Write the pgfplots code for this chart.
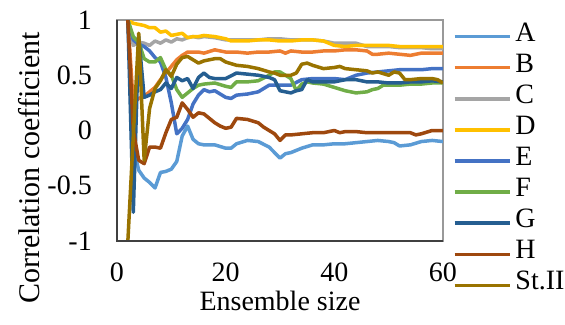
\documentclass[border=0pt]{standalone}
\usepackage{fontspec}
\setmainfont{Liberation Serif}
\usepackage{pgfplots}
\pgfplotsset{compat=1.18}
\definecolor{cA}{HTML}{5B9BD5}
\definecolor{cB}{HTML}{ED7D31}
\definecolor{cC}{HTML}{A5A5A5}
\definecolor{cD}{HTML}{FFC000}
\definecolor{cE}{HTML}{4472C4}
\definecolor{cF}{HTML}{70AD47}
\definecolor{cG}{HTML}{255E91}
\definecolor{cH}{HTML}{9E480E}
\definecolor{cS}{HTML}{997300}
\begin{document}
\fontsize{28bp}{33bp}\selectfont
\begin{tikzpicture}
\useasboundingbox (-117bp,-84bp) rectangle (448bp,241bp);
\begin{axis}[
  scale only axis, width=326bp, height=221bp,
  xmin=0, xmax=60, ymin=-1, ymax=1,
  xtick={0,20,40,60}, xticklabels={0,20,40,60},
  ytick={-1,-0.5,0,0.5,1}, yticklabels={-1,-0.5,0,0.5,1},
  major tick length=0pt,
  xticklabel style={anchor=north, inner sep=0pt, yshift=-22bp},
  yticklabel style={anchor=east, inner sep=0pt, xshift=-25bp},
  axis line style={draw=black!40, line width=1.2bp},
  xlabel={Ensemble size},
  xlabel style={at={(axis description cs:0.5,0)}, anchor=north, inner sep=0pt, yshift=-50bp},
  ylabel={Correlation coefficient},
  ylabel style={at={(axis description cs:-0.27,0.33)}, anchor=center, inner sep=0pt, font=\fontsize{30bp}{35bp}\selectfont},
  every axis plot/.append style={line width=3.5bp, line join=round, mark=none},
  legend style={at={(axis description cs:1,1)}, anchor=north west, xshift=10bp, yshift=-1bp,
    draw=none, fill=none, inner sep=0pt, outer sep=0pt, row sep=0pt, column sep=4bp,
    nodes={inner sep=0pt, text height=20bp, text depth=11.1bp}},
  legend cell align=left,
  legend image code/.code={\draw[#1, line width=3.5bp] (0bp,0bp) -- (55bp,0bp);},
  after end axis/.code={\draw[black!75, line width=1.5bp] (rel axis cs:0,1) -- (rel axis cs:0,0) -- (rel axis cs:1,0);},
]
\addplot[cA] coordinates {(2,1) (3,-0.15) (4,-0.36) (5,-0.43) (6,-0.47) (7,-0.52) (8,-0.38) (9,-0.37) (10,-0.35) (11,-0.28) (12,-0.05) (13,0.04) (14,-0.08) (15,-0.12) (16,-0.13) (18,-0.13) (20,-0.16) (21,-0.16) (22,-0.12) (24,-0.09) (26,-0.10) (28,-0.15) (29,-0.2) (30,-0.25) (31,-0.21) (32,-0.2) (34,-0.16) (36,-0.13) (38,-0.13) (40,-0.12) (42,-0.12) (44,-0.11) (46,-0.1) (48,-0.09) (50,-0.1) (51,-0.11) (52,-0.14) (54,-0.13) (56,-0.1) (58,-0.09) (60,-0.10)};
\addlegendentry{A}
\addplot[cB] coordinates {(2,1) (3,0.24) (4,0.29) (5,0.31) (6,0.35) (7,0.39) (8,0.46) (9,0.52) (10,0.58) (11,0.64) (12,0.68) (13,0.71) (14,0.71) (15,0.71) (16,0.70) (18,0.73) (20,0.71) (22,0.71) (24,0.70) (26,0.71) (28,0.71) (30,0.72) (31,0.70) (32,0.72) (34,0.71) (36,0.71) (38,0.72) (40,0.72) (42,0.73) (44,0.73) (46,0.72) (47,0.69) (48,0.69) (50,0.70) (52,0.69) (54,0.68) (56,0.70) (58,0.70) (60,0.70)};
\addlegendentry{B}
\addplot[cC] coordinates {(2,1) (3,0.77) (4,0.80) (5,0.79) (6,0.77) (7,0.81) (8,0.79) (9,0.82) (10,0.80) (11,0.83) (12,0.82) (13,0.84) (14,0.85) (15,0.84) (16,0.85) (18,0.84) (20,0.82) (22,0.82) (24,0.82) (26,0.82) (28,0.83) (30,0.83) (32,0.82) (34,0.82) (36,0.82) (38,0.81) (40,0.79) (42,0.79) (44,0.79) (46,0.76) (48,0.76) (50,0.76) (52,0.75) (54,0.75) (56,0.75) (58,0.74) (60,0.74)};
\addlegendentry{C}
\addplot[cD] coordinates {(2,1) (3,0.97) (4,0.96) (5,0.95) (6,0.93) (7,0.93) (8,0.89) (9,0.90) (10,0.86) (11,0.87) (12,0.88) (13,0.84) (14,0.85) (15,0.85) (16,0.86) (18,0.85) (20,0.83) (21,0.81) (22,0.81) (24,0.81) (26,0.82) (28,0.82) (30,0.81) (32,0.81) (34,0.82) (36,0.82) (38,0.81) (40,0.77) (42,0.76) (44,0.77) (46,0.77) (48,0.77) (50,0.77) (52,0.76) (54,0.76) (56,0.76) (58,0.76) (60,0.76)};
\addlegendentry{D}
\addplot[cE] coordinates {(2,1) (3,0.82) (4,0.78) (5,0.76) (6,0.72) (7,0.66) (8,0.62) (9,0.48) (10,0.25) (11,-0.03) (12,0.02) (13,0.10) (14,0.24) (15,0.32) (16,0.37) (17,0.35) (18,0.36) (20,0.30) (21,0.29) (22,0.32) (24,0.33) (26,0.35) (28,0.41) (30,0.41) (32,0.41) (34,0.46) (36,0.47) (38,0.47) (40,0.47) (42,0.46) (44,0.50) (46,0.52) (48,0.53) (50,0.54) (52,0.55) (54,0.55) (56,0.55) (58,0.56) (60,0.56)};
\addlegendentry{E}
\addplot[cF] coordinates {(2,1) (3,0.85) (4,0.80) (5,0.65) (6,0.62) (7,0.62) (8,0.66) (9,0.55) (10,0.50) (11,0.37) (12,0.30) (13,0.34) (14,0.38) (15,0.41) (16,0.42) (18,0.43) (20,0.40) (21,0.39) (22,0.44) (24,0.44) (26,0.45) (28,0.50) (29,0.53) (30,0.53) (31,0.50) (32,0.47) (33,0.36) (34,0.42) (35,0.44) (36,0.43) (38,0.42) (40,0.39) (42,0.36) (44,0.34) (46,0.35) (47,0.37) (48,0.38) (49,0.41) (50,0.41) (52,0.41) (54,0.42) (56,0.42) (58,0.43) (60,0.43)};
\addlegendentry{F}
\addplot[cG] coordinates {(2,1) (3,-0.74) (4,0.85) (5,0.30) (6,0.32) (7,0.35) (8,0.37) (9,0.43) (10,0.38) (11,0.48) (12,0.45) (13,0.47) (14,0.38) (15,0.48) (16,0.52) (17,0.48) (18,0.47) (20,0.47) (22,0.52) (24,0.51) (26,0.50) (28,0.48) (29,0.46) (30,0.36) (31,0.35) (32,0.34) (33,0.36) (34,0.37) (35,0.46) (36,0.44) (38,0.44) (40,0.44) (42,0.46) (44,0.46) (46,0.44) (48,0.44) (50,0.43) (52,0.43) (54,0.44) (56,0.44) (58,0.45) (60,0.44)};
\addlegendentry{G}
\addplot[cH] coordinates {(2,1) (3,0.0) (4,-0.27) (5,-0.30) (6,-0.15) (7,-0.15) (8,-0.16) (9,-0.02) (10,0.1) (11,0.12) (12,0.25) (13,0.19) (14,0.12) (15,0.16) (16,0.15) (17,0.11) (18,0.07) (19,0.04) (20,0.02) (21,0.03) (22,0.11) (24,0.10) (26,0.07) (27,0.03) (28,0.0) (29,-0.03) (30,-0.09) (31,-0.04) (32,-0.04) (34,-0.03) (36,-0.02) (38,-0.02) (40,0.0) (41,-0.02) (42,-0.01) (44,-0.01) (46,-0.02) (48,-0.02) (50,-0.02) (52,-0.02) (54,-0.02) (55,-0.04) (56,-0.03) (58,0.0) (60,0.0)};
\addlegendentry{H}
\addplot[cS] coordinates {(2,-1) (3,-0.05) (4,0.88) (5,-0.27) (6,0.20) (7,0.38) (8,0.45) (9,0.55) (10,0.49) (11,0.60) (12,0.66) (13,0.67) (14,0.64) (15,0.61) (16,0.63) (18,0.65) (19,0.65) (20,0.62) (22,0.59) (24,0.58) (26,0.56) (28,0.53) (29,0.52) (30,0.50) (32,0.50) (33,0.52) (34,0.60) (35,0.61) (36,0.59) (38,0.56) (40,0.57) (41,0.58) (42,0.56) (44,0.55) (46,0.54) (47,0.52) (48,0.53) (50,0.50) (51,0.53) (52,0.52) (53,0.46) (54,0.46) (56,0.47) (58,0.47) (59,0.46) (60,0.43)};
\addlegendentry{St.II}
\end{axis}
\end{tikzpicture}
\end{document}
